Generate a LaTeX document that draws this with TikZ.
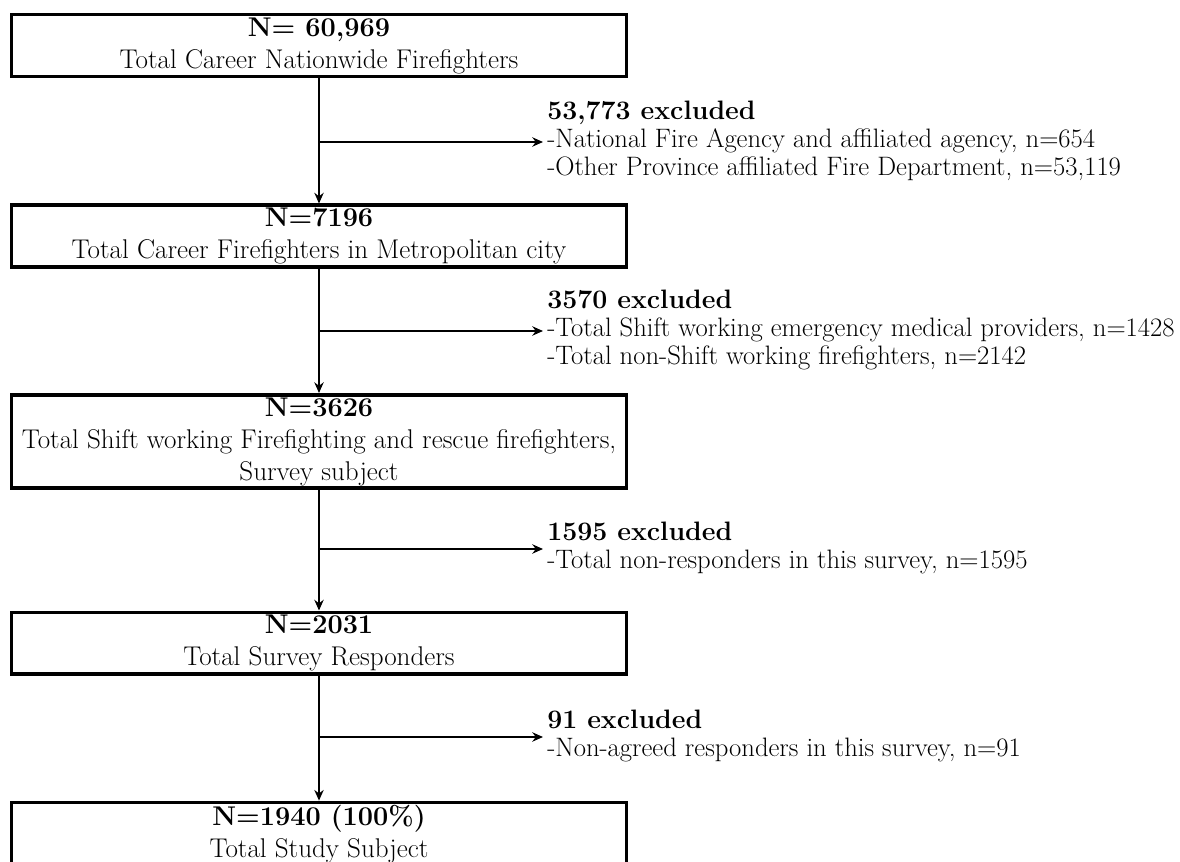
\documentclass[tikz,border=0pt]{standalone}
\usetikzlibrary{positioning, arrows.meta, calc}

\begin{document}
\begin{tikzpicture}[x=0.75pt, y=-0.75pt, node distance={4pt},
  main/.style = {draw, line width=2.7pt, minimum width=461pt, inner sep=2pt, align=center, font=\fontsize{20.3}{24}\selectfont},
  note/.style = {inner sep=0pt, anchor=west, text height=0.9em, text depth=0.05em, font=\fontsize{20}{21}\selectfont},
  flow/.style = {line width=1.4pt, -{Stealth[length=8pt, width=7pt]}}]
\useasboundingbox (0,0) rectangle (1180,862);

\node[main, minimum height=46.5pt] (n1) at (319,45.5) {\textbf{N= 60,969}\\Total Career Nationwide Firefighters};
\node[main, minimum height=45pt] (n2) at (319,236) {\textbf{N=7196}\\Total Career Firefighters in Metropolitan city};
\node[main, minimum height=66.75pt] (n3) at (319,441.5) {\textbf{N=3626}\\Total Shift working Firefighting and rescue firefighters,\\Survey subject};
\node[main, minimum height=45pt] (n4) at (319,643) {\textbf{N=2031}\\Total Survey Responders};
\node[main, minimum height=46.5pt] (n5) at (319,834) {\textbf{N=1940 (100\%)}\\Total Study Subject};

% excluded groups
\node[note] (x1) at (547,114) {\textbf{53,773 excluded}};
\node[note] (x1a) at (547,142) {-National Fire Agency and affiliated agency, n=654};
\node[note] (x1b) at (547,170) {-Other Province affiliated Fire Department, n=53,119};

\node[note] (x2) at (547,303) {\textbf{3570 excluded}};
\node[note] (x2a) at (547,331) {-Total Shift working emergency medical providers, n=1428};
\node[note] (x2b) at (547,359) {-Total non-Shift working firefighters, n=2142};

\node[note] (x3) at (547,535) {\textbf{1595 excluded}};
\node[note] (x3a) at (547,563) {-Total non-responders in this survey, n=1595};

\node[note] (x4) at (547,723) {\textbf{91 excluded}};
\node[note] (x4a) at (547,751) {-Non-agreed responders in this survey, n=91};

\draw[flow] (n1) -- (n2);
\draw[flow] (n2) -- (n3);
\draw[flow] (n3) -- (n4);
\draw[flow] (n4) -- (n5);

\draw[flow, shorten >=3pt] (n1.south |- x1a.west) -- (x1a.west);
\draw[flow, shorten >=3pt] (n2.south |- x2a.west) -- (x2a.west);
\coordinate (c3) at ($(x3.west)!.5!(x3a.west)$);
\coordinate (c4) at ($(x4.west)!.5!(x4a.west)$);
\draw[flow, shorten >=3pt] (n3.south |- c3) -- (c3);
\draw[flow, shorten >=3pt] (n4.south |- c4) -- (c4);

\end{tikzpicture}
\end{document}
